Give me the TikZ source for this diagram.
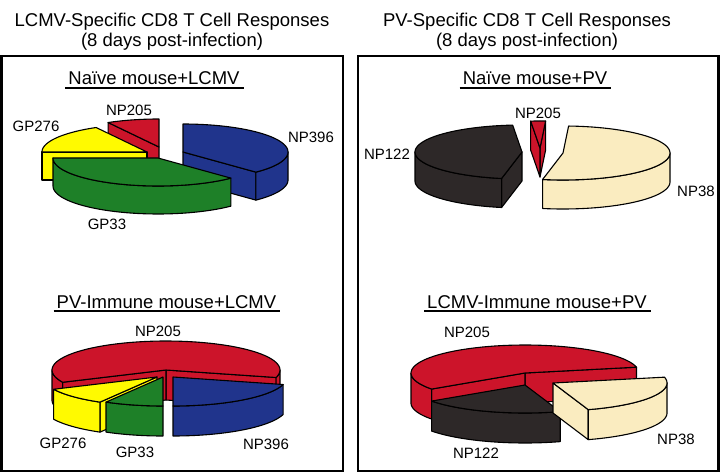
\documentclass[tikz,border=0pt]{standalone}
\usepackage{fontspec}
\setmainfont{Liberation Sans}
\definecolor{pred}{RGB}{204,20,42}
\definecolor{pblue}{RGB}{32,52,140}
\definecolor{pgreen}{RGB}{30,128,40}
\definecolor{pyellow}{RGB}{255,250,0}
\definecolor{pblack}{RGB}{45,40,40}
\definecolor{pbeige}{RGB}{250,236,192}
\newcommand\setpie[3]{\def\pRX{#1}\def\pRY{#2}\def\pH{#3}}
\newcommand\pwall[5]{%
  \filldraw[pieline,fill=#5] plot[domain=#3:#4,samples=40] ({#1+\pRX*cos(\x)},{#2-\pRY*sin(\x)}) -- plot[domain=#4:#3,samples=40] ({#1+\pRX*cos(\x)},{#2-\pRY*sin(\x)+\pH}) -- cycle;}
\newcommand\pwallpart[7]{%
  \pgfmathsetmacro\pLo{max(#3,#5)}%
  \pgfmathsetmacro\pHi{min(#4,#6)}%
  \ifdim\pLo pt<\pHi pt \pwall{#1}{#2}{\pLo}{\pHi}{#7}\fi}
\newcommand\pslice[5]{%
  \pgfmathsetmacro\pCa{cos(#3)}%
  \pgfmathsetmacro\pCb{cos(#4)}%
  \ifdim\pCa pt>0pt
    \filldraw[pieline,fill=#5] (#1,#2) -- ({#1+\pRX*cos(#3)},{#2-\pRY*sin(#3)}) -- ++(0,\pH) -- (#1,{#2+\pH}) -- cycle;
  \fi
  \ifdim\pCb pt<0pt
    \filldraw[pieline,fill=#5] (#1,#2) -- ({#1+\pRX*cos(#4)},{#2-\pRY*sin(#4)}) -- ++(0,\pH) -- (#1,{#2+\pH}) -- cycle;
  \fi
  \pwallpart{#1}{#2}{#3}{#4}{-180}{0}{#5}%
  \pwallpart{#1}{#2}{#3}{#4}{180}{360}{#5}%
  \pwallpart{#1}{#2}{#3}{#4}{540}{720}{#5}%
  \filldraw[pieline,fill=#5] (#1,#2) -- plot[domain=#3:#4,samples=60] ({#1+\pRX*cos(\x)},{#2-\pRY*sin(\x)}) -- cycle;}
\begin{document}
\begin{tikzpicture}[x=1pt,y=-1pt,
  pieline/.style={draw=black,line width=1.1pt,line join=round},
  frame/.style={draw=black,line width=2.6pt},
  title/.style={font=\fontsize{18.5}{22}\selectfont,anchor=base,inner sep=0pt},
  sub/.style={font=\fontsize{18.5}{22}\selectfont,anchor=base,inner sep=0pt},
  uline/.style={draw=black,line width=2pt},
  lab/.style={font=\fontsize{15}{18}\selectfont,inner sep=0pt}]
\useasboundingbox (0,0) rectangle (720,473);
% titles
\node[title] (t1) at (172,27) {LCMV-Specific CD8 T Cell Responses};
\node[title] (t2) at (172,47) {(8 days post-infection)};
\node[title] (t3) at (527,27) {PV-Specific CD8 T Cell Responses};
\node[title] (t4) at (527,47) {(8 days post-infection)};
% frames
\draw[frame] (1.5,56) rectangle (343,471);
\draw[frame] (358,56) rectangle (718.5,471);
% subtitles
\node[sub] (s1) at (154,85) {Naïve mouse+LCMV};
\node[sub] (s2) at (535,85) {Naïve mouse+PV};
\node[sub] (s3) at (166.5,308) {PV-Immune mouse+LCMV};
\node[sub] (s4) at (537,308) {LCMV-Immune mouse+PV};
\foreach \s in {s1,s2,s3,s4}
  \draw[uline] ([shift={(-3,3)}]\s.base west) -- ([shift={(4,3)}]\s.base east);
% ---- top-left pie
\setpie{105}{28}{28}
\pslice{159}{147}{90}{119}{pred}
\pslice{147}{152}{119}{180}{pyellow}
\pslice{183}{152}{-46}{90}{pblue}
\pslice{158}{158}{180}{314}{pgreen}
\node[lab] (a1) at (129,110) {NP205};
\node[lab] (a2) at (36,126) {GP276};
\node[lab] (a3) at (311,137) {NP396};
\node[lab] (a4) at (107,224) {GP33};
% ---- top-right pie
\setpie{107}{27}{29}
\pslice{540}{148}{87}{95}{pred}
\pslice{522}{152}{95}{259}{pblack}
\pslice{563}{153}{259}{447}{pbeige}
\node[lab] (b1) at (538,113) {NP205};
\node[lab] (b2) at (387,154) {NP122};
\node[lab] (b3) at (696,191) {NP38};
% ---- bottom-left pie
\setpie{114}{29}{30}
\pslice{166}{370}{345}{565}{pred}
\pslice{157}{377}{205}{240}{pyellow}
\pslice{163}{377}{240}{270}{pgreen}
\pslice{173}{377}{270}{345}{pblue}
\node[lab] (c1) at (158,331) {NP205};
\node[lab] (c2) at (63,443) {GP276};
\node[lab] (c3) at (135,452) {GP33};
\node[lab] (c4) at (266,444) {NP396};
% ---- bottom-right pie
\setpie{114}{28}{30}
\pslice{525}{373}{12}{215}{pred}
\pslice{525}{385}{215}{288}{pblack}
\pslice{553}{383}{288}{372}{pbeige}
\node[lab] (d1) at (467,332) {NP205};
\node[lab] (d2) at (676,439) {NP38};
\node[lab] (d3) at (476,453) {NP122};
\end{tikzpicture}
\end{document}
